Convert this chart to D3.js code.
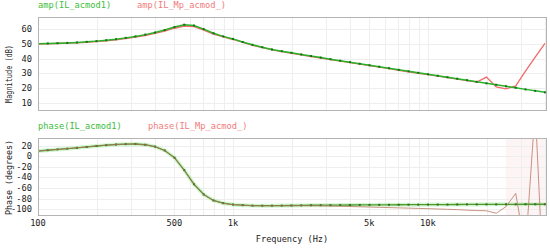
<!DOCTYPE html>
<html>
<head>
<meta charset="utf-8">
<script src="https://cdn.jsdelivr.net/npm/d3@7"></script>
<style>
  body { margin: 0; background: #fff; }
  text { font-family: "DejaVu Sans Mono", monospace; }
</style>
</head>
<body>
<div id="vis"></div>
<script>
const SVG = d3.select("#vis").append("svg");

const WIDTH = 550;
const HEIGHT = 249;

// datos (20 puntos por decada)
const frecuencias = [100, 112.2, 125.9, 141.3, 158.5, 177.8, 199.5, 223.9, 251.2, 281.8,
  316.2, 354.8, 398.1, 446.7, 501.2, 562.3, 631.0, 707.9, 794.3, 891.3,
  1000, 1122, 1259, 1413, 1585, 1778, 1995, 2239, 2512, 2818,
  3162, 3548, 3981, 4467, 5012, 5623, 6310, 7079, 7943, 8913,
  10000, 11220, 12589, 14125, 15849, 17783, 19953, 22387, 25119, 28184,
  31623, 35481, 39811];

const mag_acmod1 = [50.0, 50.2, 50.4, 50.6, 50.9, 51.3, 51.8, 52.4, 53.1, 54.0,
  55.0, 56.2, 57.6, 59.3, 61.3, 62.9, 62.3, 59.9, 57.1, 55.0,
  53.3, 51.2, 49.3, 47.7, 46.2, 45.0, 43.9, 42.8, 41.7, 40.7,
  39.6, 38.6, 37.6, 36.5, 35.5, 34.5, 33.5, 32.4, 31.4, 30.4,
  29.4, 28.4, 27.4, 26.4, 25.4, 24.3, 23.3, 22.3, 21.3, 20.3,
  19.2, 18.2, 17.2];

const mag_mp = [49.8, 50.0, 50.2, 50.4, 50.7, 51.0, 51.5, 52.0, 52.7, 53.5,
  54.5, 55.6, 57.0, 58.6, 60.5, 62.0, 61.6, 59.3, 56.6, 54.6,
  52.9, 50.9, 49.0, 47.4, 45.9, 44.7, 43.6, 42.5, 41.4, 40.4,
  39.3, 38.3, 37.3, 36.2, 35.2, 34.2, 33.2, 32.1, 31.1, 30.1,
  29.1, 28.1, 27.1, 26.1, 25.1, 24.2, 27.5, 20.8, 19.6, 21.5,
  31.5, 41.0, 50.3];

const fase_acmod1 = [10.0, 11.4, 12.9, 14.4, 16.0, 17.6, 19.4, 20.9, 22.2, 22.9,
  23.2, 21.8, 18.3, 11.0, -2.7, -26, -52.7, -72, -83.3, -88.5,
  -91.0, -92.2, -93.0, -93.2, -93.2, -93.0, -92.8, -92.6, -92.4, -92.3,
  -92.2, -92.0, -91.9, -91.8, -91.7, -91.6, -91.5, -91.4, -91.3, -91.2,
  -91.1, -91.0, -91.0, -90.9, -90.8, -90.8, -90.7, -90.7, -90.6, -90.6,
  -90.5, -90.5, -90.5];

const fase_mp = [10.0, 11.4, 12.9, 14.4, 16.0, 17.6, 19.4, 20.9, 22.2, 22.9,
  23.2, 21.6, 18.0, 10.6, -3.2, -26.5, -53, -72.3, -83.6, -88.8,
  -91.3, -92.5, -93.3, -93.5, -93.5, -93.4, -93.3, -93.3, -93.4, -93.6,
  -93.9, -94.3, -94.8, -95.3, -95.8, -96.3, -96.8, -97.3, -97.8, -98.3,
  -98.8, -99.4, -100.0, -100.7, -101.5, -102.4, -102.8, -107.5, -95, -70,
  -177, 90, -300];

const ticks_x = [100, 500, 1000, 5000, 10000];
const etiquetas_x = ["100", "500", "1k", "5k", "10k"];
const ticks_mag = [10, 20, 30, 40, 50, 60];
const ticks_fase = [20, 0, -20, -40, -60, -80, -100];
const leyenda_mag = ["amp(IL_acmod1)", "amp(IL_Mp_acmod_)"];
const leyenda_fase = ["phase(IL_acmod1)", "phase(IL_Mp_acmod_)"];
const zona_rosa = [25000, 40300];

const VERDE = "#27b327";
const ROJO = "#f26a6a";

SVG.attr("width", WIDTH).attr("height", HEIGHT);

const escala_x = d3.scaleLog().domain([100, 40300]).range([38, 546]);
const escala_mag = d3.scaleLinear().domain([5.27, 68.1]).range([110, 17]);
const escala_fase = d3.scaleLinear().domain([-110.75, 34.5]).range([215, 138]);

const datos_mag = frecuencias.map((f, i) => ({ f: f, a: mag_acmod1[i], b: mag_mp[i] }));
const datos_fase = frecuencias.map((f, i) => ({ f: f, a: fase_acmod1[i], b: fase_mp[i] }));

dibujar_panel("mag", escala_mag, ticks_mag, datos_mag, leyenda_mag, 8, "Magnitude (dB)", 74, 58);
dibujar_panel("fase", escala_fase, ticks_fase, datos_fase, leyenda_fase, 129, "Phase (degrees)", 177.5, 75);

// eje x solo abajo
SVG.append("g")
  .selectAll("text")
  .data(ticks_x)
  .join("text")
  .attr("x", d => escala_x(d))
  .attr("y", 226)
  .attr("text-anchor", "middle")
  .attr("font-size", 8.7)
  .attr("fill", "#222")
  .text((d, i) => etiquetas_x[i]);

SVG.append("text")
  .attr("x", 292)
  .attr("y", 242)
  .attr("text-anchor", "middle")
  .attr("font-size", 8.6)
  .attr("fill", "#222")
  .text("Frequency (Hz)");


function dibujar_panel(id, escala_y, ticks_y, datos, leyenda, y_leyenda, titulo, y_titulo, largo_titulo) {
  const [x0, x1] = escala_x.range();
  const [y1, y0] = escala_y.range();
  const g = SVG.append("g").attr("id", id);

  g.append("clipPath").attr("id", "clip-" + id)
    .append("rect")
    .attr("x", x0).attr("y", y0)
    .attr("width", x1 - x0).attr("height", y1 - y0);

  if (id == "fase") {
    g.append("rect")
      .attr("x", escala_x(zona_rosa[0]))
      .attr("y", y0)
      .attr("width", escala_x(zona_rosa[1]) - escala_x(zona_rosa[0]))
      .attr("height", y1 - y0)
      .attr("fill", "#fdf5f5");
  }

  // grilla
  g.append("g")
    .selectAll("line")
    .data(escala_x.ticks())
    .join("line")
    .attr("x1", d => Math.round(escala_x(d)) + 0.5)
    .attr("x2", d => Math.round(escala_x(d)) + 0.5)
    .attr("y1", y0).attr("y2", y1)
    .attr("stroke", "#eeeeee");

  g.append("g")
    .selectAll("line")
    .data(ticks_y)
    .join("line")
    .attr("x1", x0).attr("x2", x1)
    .attr("y1", d => Math.round(escala_y(d)) + 0.5)
    .attr("y2", d => Math.round(escala_y(d)) + 0.5)
    .attr("stroke", "#eeeeee");

  const linea_a = d3.line().x(d => escala_x(d.f)).y(d => escala_y(d.a));
  const linea_b = d3.line().x(d => escala_x(d.f)).y(d => escala_y(d.b));

  const curvas = g.append("g").attr("clip-path", "url(#clip-" + id + ")");

  if (id == "fase") {
    curvas.append("path")
      .datum(datos)
      .attr("d", linea_a)
      .attr("fill", "none")
      .attr("stroke", "#b8f0b8")
      .attr("stroke-width", 4)
      .attr("opacity", 0.6);
  }

  if (id == "mag") {
    curvas.append("path")
      .datum(datos)
      .attr("d", linea_b)
      .attr("fill", "none")
      .attr("stroke", ROJO)
      .attr("stroke-width", 1.3);
  }

  curvas.append("path")
    .datum(datos)
    .attr("d", linea_a)
    .attr("fill", "none")
    .attr("stroke", id == "fase" ? "#4e9a2e" : VERDE)
    .attr("stroke-width", id == "fase" ? 1.3 : 1.5);

  curvas.selectAll("rect.punto")
    .data(datos)
    .join("rect")
    .attr("class", "punto")
    .attr("x", d => escala_x(d.f) - 1)
    .attr("y", d => escala_y(d.a) - 1)
    .attr("width", 2)
    .attr("height", 2)
    .attr("fill", id == "fase" ? "#3d6b22" : "#1d6e1d");

  if (id == "fase") {
    curvas.append("path")
      .datum(datos)
      .attr("d", linea_b)
      .attr("fill", "none")
      .attr("stroke", "#b5705a")
      .attr("stroke-width", 1)
      .attr("opacity", 0.75);
  }

  // marco
  g.append("rect")
    .attr("x", x0 + 0.5).attr("y", y0 + 0.5)
    .attr("width", x1 - x0).attr("height", y1 - y0)
    .attr("fill", "none")
    .attr("stroke", "#b4b4b4");

  g.append("g")
    .selectAll("text")
    .data(ticks_y)
    .join("text")
    .attr("x", 32)
    .attr("y", d => escala_y(d) + 3)
    .attr("text-anchor", "end")
    .attr("font-size", 8.7)
    .attr("fill", "#222")
    .text(d => d);

  g.append("text")
    .attr("transform", `translate(11.5, ${y_titulo}) rotate(-90)`)
    .attr("text-anchor", "middle")
    .attr("font-size", 8.7)
    .attr("fill", "#222")
    .attr("textLength", largo_titulo)
    .attr("lengthAdjust", "spacingAndGlyphs")
    .text(titulo);

  // leyenda
  g.append("text")
    .attr("x", 38).attr("y", y_leyenda)
    .attr("font-size", 8.7)
    .attr("fill", "#3cbc3c")
    .text(leyenda[0]);

  g.append("text")
    .attr("x", id == "fase" ? 148 : 137).attr("y", y_leyenda)
    .attr("font-size", 8.7)
    .attr("fill", "#f07a7a")
    .text(leyenda[1]);
}
</script>
</body>
</html>
